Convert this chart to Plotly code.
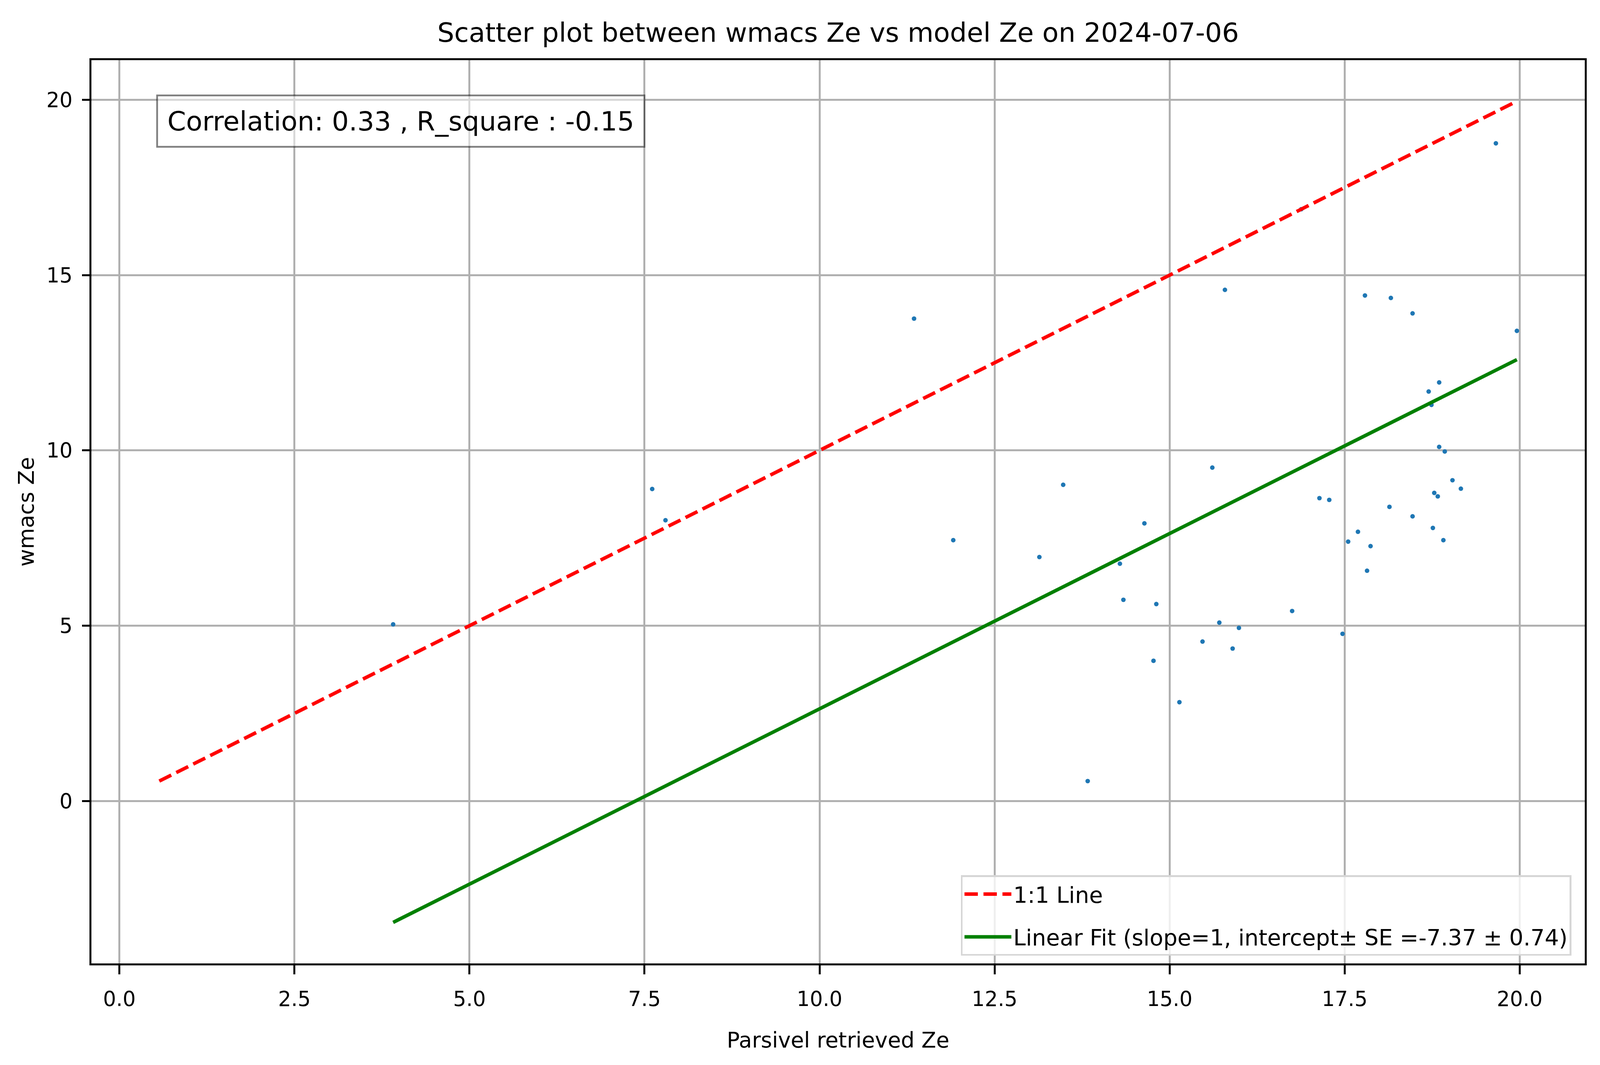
import plotly.graph_objects as go

# Parsivel retrieved Ze (x) vs wmacs Ze (y)
parsivel_ze = [3.91, 7.61, 7.80, 11.35, 11.91, 13.14, 13.48, 13.83, 14.29, 14.34,
               14.64, 14.77, 14.81, 15.14, 15.47, 15.61, 15.71, 15.79, 15.90, 15.99,
               16.75, 16.88, 17.14, 17.28, 17.47, 17.55, 17.69, 17.79, 17.82, 17.87,
               18.14, 18.16, 18.47, 18.47, 18.70, 18.74, 18.76, 18.78, 18.83, 18.85,
               18.85, 18.91, 18.93, 19.04, 19.16, 19.66, 19.96]
wmacs_ze = [5.04, 8.90, 8.01, 13.76, 7.44, 6.96, 9.02, 0.57, 6.77, 5.74,
            7.92, 4.00, 5.62, 2.82, 4.55, 9.51, 5.09, 14.58, 4.35, 4.94,
            5.42, 16.88, 8.64, 8.59, 4.77, 7.40, 7.68, 14.42, 6.57, 7.27,
            8.39, 14.35, 13.91, 8.12, 11.68, 11.30, 7.79, 8.79, 8.69, 11.94,
            10.10, 7.44, 9.97, 9.15, 8.91, 18.76, 13.41]

slope = 1
intercept = -7.37
intercept_se = 0.74
correlation = 0.33
r_square = -0.15
date_str = "2024-07-06"

# the browser viewport is clamped to 4096 px wide, so squeeze horizontally
W, H = 4096, 2726
sx = W / 4981
sw = 0.9  # line / marker scale

# 1:1 line spans all data, fit line spans x data
lo = min(min(parsivel_ze), min(wmacs_ze))
hi = max(max(parsivel_ze), max(wmacs_ze))
one_x = [lo, hi]
one_y = [lo, hi]
fit_x = [min(parsivel_ze), max(parsivel_ze)]
fit_y = [slope * v + intercept for v in fit_x]

# matplotlib-like 5% margins
def padded(vals):
    a, b = min(vals), max(vals)
    m = (b - a) * 0.05
    return [a - m, b + m]

x_range = padded(one_x + fit_x)
y_range = padded(one_y + fit_y)

fig = go.Figure()
fig.add_trace(go.Scatter(x=parsivel_ze, y=wmacs_ze, mode="markers",
                         marker=dict(size=13 * sw, color="#1f77b4", line=dict(width=0)),
                         showlegend=False))
fig.add_trace(go.Scatter(x=one_x, y=one_y, mode="lines", name="1:1 Line", legendgroup="a",
                         line=dict(color="red", width=10 * sw,
                                   dash=f"{38 * sw:.1f}px,{16 * sw:.1f}px")))
fig.add_trace(go.Scatter(x=fit_x, y=fit_y, mode="lines", legendgroup="b",
                         name=f"Linear Fit (slope={slope}, intercept\u00b1 SE ={intercept} \u00b1 {intercept_se})",
                         line=dict(color="green", width=10 * sw)))

axis_common = dict(showgrid=True, gridcolor="#b0b0b0", gridwidth=5 * sw,
                   showline=True, linecolor="black", linewidth=5 * sw, mirror=True,
                   ticks="outside", tickwidth=5 * sw, tickcolor="black",
                   zeroline=False, tickfont=dict(size=64 * sx, color="black"))

fig.update_xaxes(range=x_range, dtick=2.5, tick0=0, tickformat=".1f",
                 ticklen=23, ticklabelstandoff=18,
                 title=dict(text="Parsivel retrieved Ze", font=dict(size=67 * sx, color="black"),
                            standoff=58),
                 **axis_common)
fig.update_yaxes(range=y_range, dtick=5, tick0=0,
                 ticklen=23 * sx, ticklabelstandoff=int(18 * sx),
                 title=dict(text="wmacs Ze", font=dict(size=67 * sx, color="black"),
                            standoff=16),
                 **axis_common)

fig.add_annotation(xref="paper", yref="paper", x=0.0434, y=0.962,
                   xanchor="left", yanchor="top",
                   text=f"Correlation: {correlation} , R_square : {r_square}",
                   showarrow=False, font=dict(size=83 * sx, color="black"),
                   bgcolor="rgba(255,255,255,0.5)", bordercolor="rgba(0,0,0,0.5)",
                   borderwidth=5 * sw, borderpad=24)

fig.update_layout(
    width=W, height=H,
    margin=dict(l=284 * sx, r=47 * sx, t=154, b=260),
    paper_bgcolor="white", plot_bgcolor="white",
    font=dict(family="DejaVu Sans", color="black"),
    title=dict(text=f"Scatter plot between wmacs Ze vs model Ze on {date_str}",
               font=dict(size=83 * sx, color="black"),
               x=0.5, xref="paper", y=1 - 83 / H, yref="container", yanchor="middle"),
    legend=dict(x=0.991, y=0.053, xanchor="right", yanchor="middle",
                font=dict(size=69.5 * sx, color="black"),
                bgcolor="rgba(255,255,255,0.8)", bordercolor="#d6d6d6", borderwidth=5 * sw,
                itemwidth=120, traceorder="grouped", tracegroupgap=32),
)

fig.write_html("out.html", config={"displayModeBar": False},
               post_script="document.body.style.margin='0';")
